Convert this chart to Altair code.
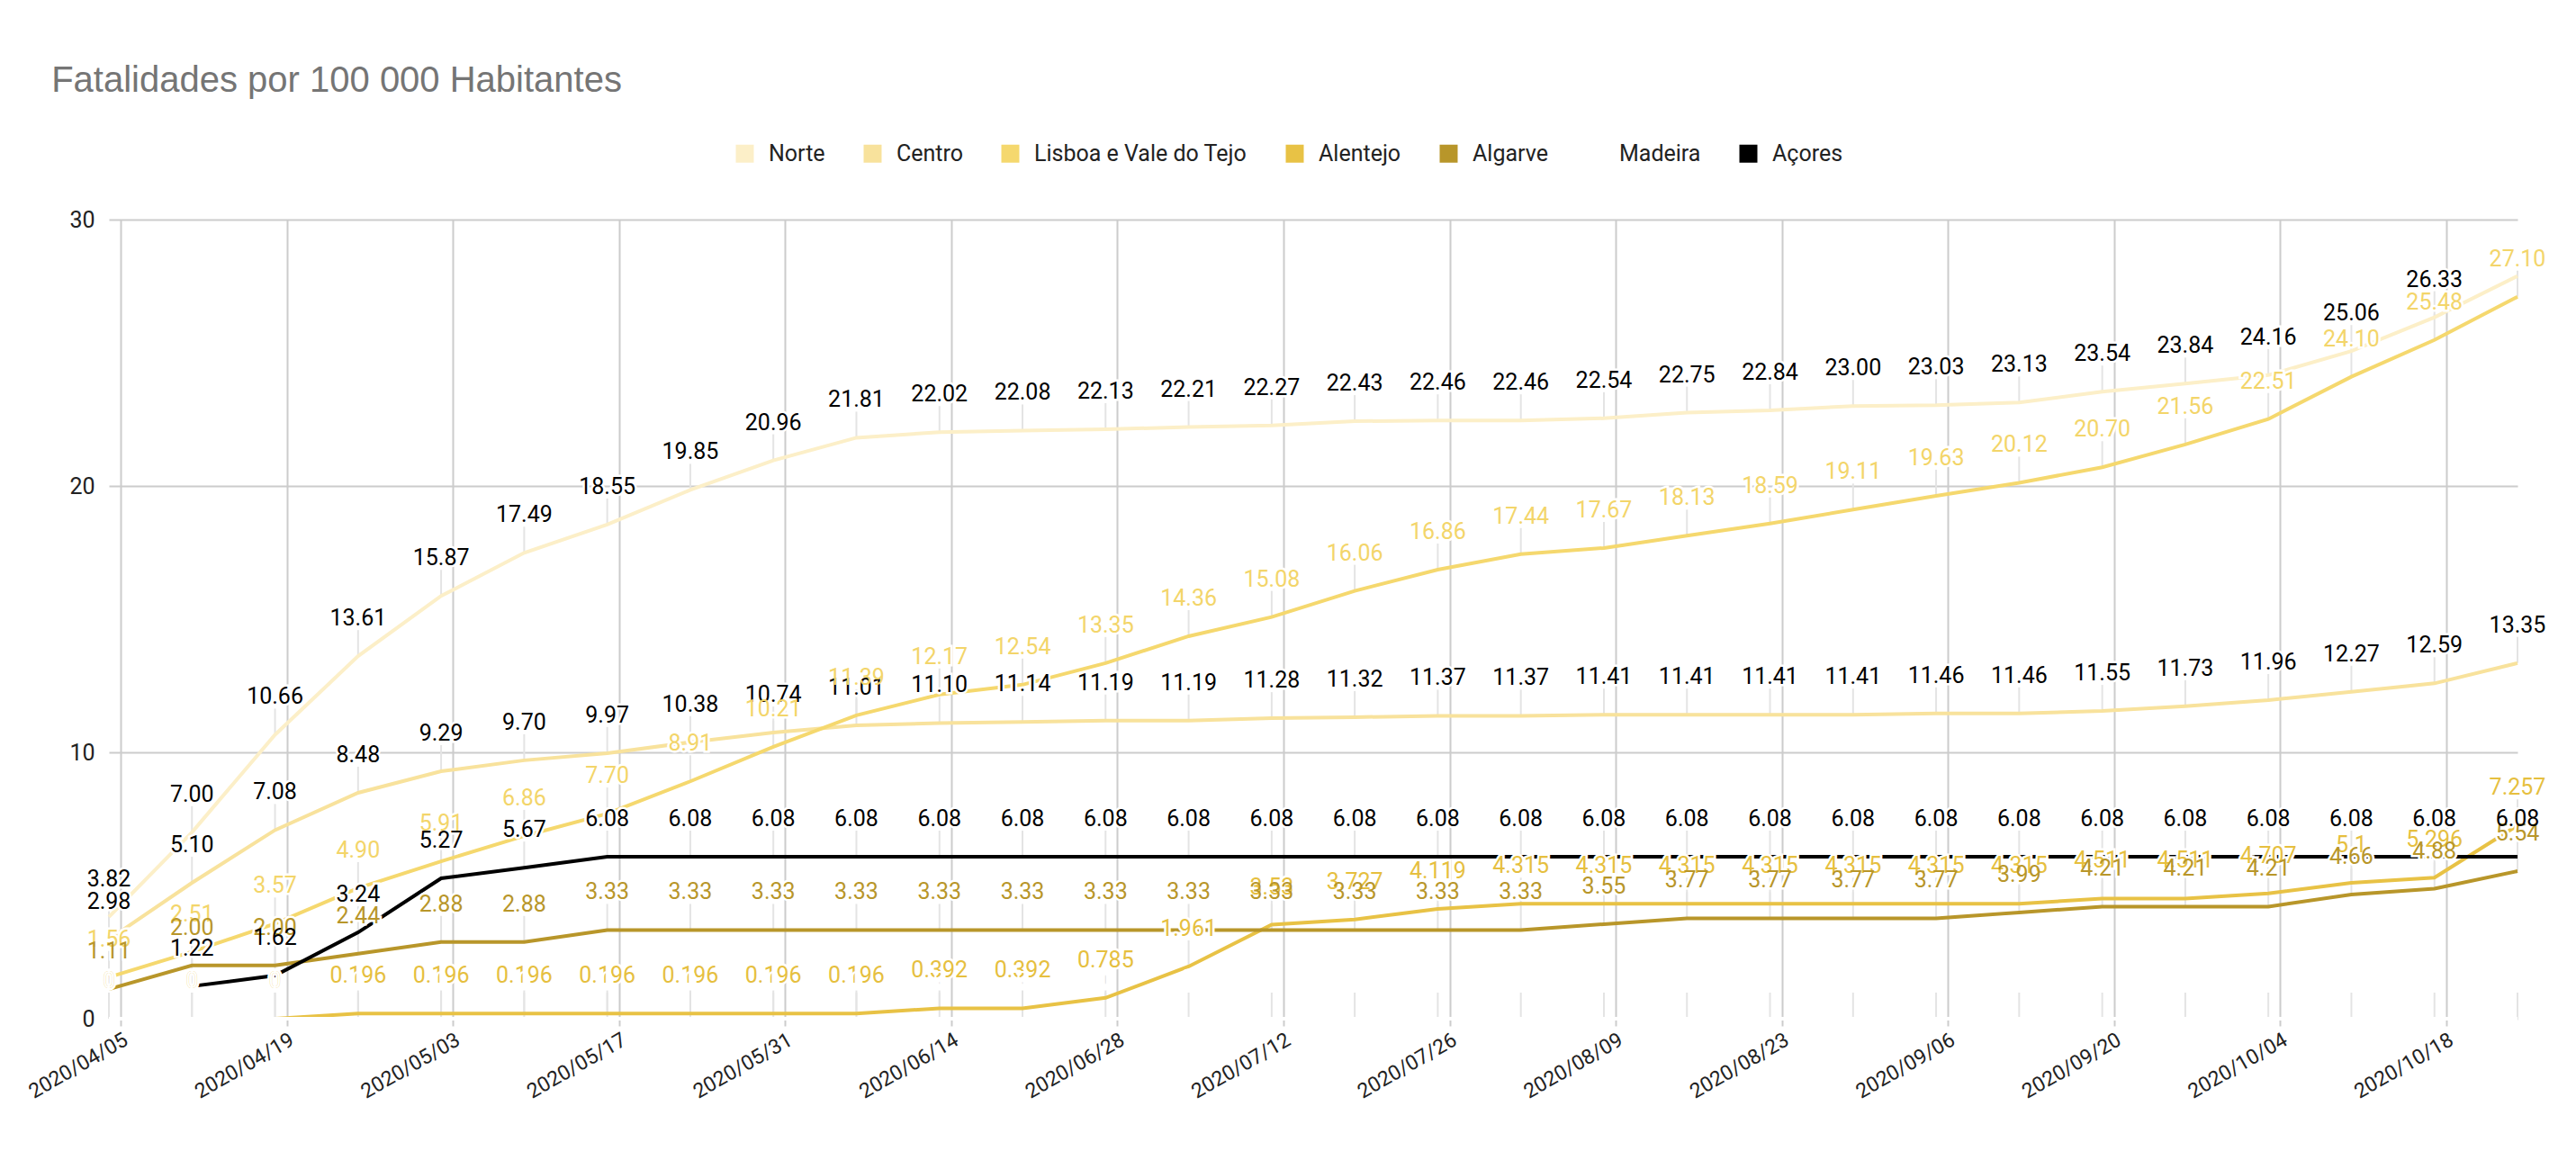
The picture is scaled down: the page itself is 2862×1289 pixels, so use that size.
import altair as alt
import pandas as pd

dates = ["2020/04/04", "2020/04/11", "2020/04/18", "2020/04/25", "2020/05/02", "2020/05/09",
         "2020/05/16", "2020/05/23", "2020/05/30", "2020/06/06", "2020/06/13", "2020/06/20",
         "2020/06/27", "2020/07/04", "2020/07/11", "2020/07/18", "2020/07/25", "2020/08/01",
         "2020/08/08", "2020/08/15", "2020/08/22", "2020/08/29", "2020/09/05", "2020/09/12",
         "2020/09/19", "2020/09/26", "2020/10/03", "2020/10/10", "2020/10/17", "2020/10/24"]

series_names = ["Norte", "Centro", "Lisboa e Vale do Tejo", "Alentejo", "Algarve", "Madeira", "Açores"]

norte = [3.82, 7.00, 10.66, 13.61, 15.87, 17.49, 18.55, 19.85, 20.96, 21.81, 22.02, 22.08, 22.13, 22.21,
         22.27, 22.43, 22.46, 22.46, 22.54, 22.75, 22.84, 23.00, 23.03, 23.13, 23.54, 23.84, 24.16, 25.06,
         26.33, 27.88]
centro = [2.98, 5.10, 7.08, 8.48, 9.29, 9.70, 9.97, 10.38, 10.74, 11.01, 11.10, 11.14, 11.19, 11.19,
          11.28, 11.32, 11.37, 11.37, 11.41, 11.41, 11.41, 11.41, 11.46, 11.46, 11.55, 11.73, 11.96, 12.27,
          12.59, 13.35]
lisboa = [1.56, 2.51, 3.57, 4.90, 5.91, 6.86, 7.70, 8.91, 10.21, 11.39, 12.17, 12.54, 13.35, 14.36,
          15.08, 16.06, 16.86, 17.44, 17.67, 18.13, 18.59, 19.11, 19.63, 20.12, 20.70, 21.56, 22.51, 24.10,
          25.48, 27.10]
alentejo = [0, 0, 0, 0.196, 0.196, 0.196, 0.196, 0.196, 0.196, 0.196, 0.392, 0.392, 0.785, 1.961,
            3.53, 3.727, 4.119, 4.315, 4.315, 4.315, 4.315, 4.315, 4.315, 4.315, 4.511, 4.511, 4.707, 5.1,
            5.296, 7.257]
algarve = [1.11, 2.00, 2.00, 2.44, 2.88, 2.88, 3.33, 3.33, 3.33, 3.33, 3.33, 3.33, 3.33, 3.33,
           3.33, 3.33, 3.33, 3.33, 3.55, 3.77, 3.77, 3.77, 3.77, 3.99, 4.21, 4.21, 4.21, 4.66,
           4.88, 5.54]
madeira = [0] * 30
acores = [None, 1.22, 1.62, 3.24, 5.27, 5.67, 6.08, 6.08, 6.08, 6.08, 6.08, 6.08, 6.08, 6.08,
          6.08, 6.08, 6.08, 6.08, 6.08, 6.08, 6.08, 6.08, 6.08, 6.08, 6.08, 6.08, 6.08, 6.08,
          6.08, 6.08]

# label text style per series: 2 decimals or raw
label_fmt = ["2f", "2f", "2f", "g", "2f", "g", "2f"]
# annotation not shown in the original
hidden_labels = {("Norte", 29)}

line_colors = ["#fcefc8", "#f8e29c", "#f5d86e", "#e8c245", "#b8962a", "#ffffff", "#000000"]
label_colors = ["#000000", "#000000", "#f3d56a", "#e6bf3f", "#b8962a", "#ffffff", "#000000"]

tick_dates = [(2020, 4, 5), (2020, 4, 19), (2020, 5, 3), (2020, 5, 17), (2020, 5, 31), (2020, 6, 14),
              (2020, 6, 28), (2020, 7, 12), (2020, 7, 26), (2020, 8, 9), (2020, 8, 23), (2020, 9, 6),
              (2020, 9, 20), (2020, 10, 4), (2020, 10, 18)]

all_values = [norte, centro, lisboa, alentejo, algarve, madeira, acores]

rows = []
for si, (name, vals) in enumerate(zip(series_names, all_values)):
    for i, (d, v) in enumerate(zip(dates, vals)):
        if v is None:
            continue
        txt = f"{v:.2f}" if label_fmt[si] == "2f" else f"{v:g}"
        rows.append({
            "date": d, "series": name, "value": v, "order": si,
            "label": txt, "lcolor": label_colors[si],
            "show": (name, i) not in hidden_labels,
        })
df = pd.DataFrame(rows)
lab_df = df[df["show"]]

x_enc = alt.X(
    "date:T",
    scale=alt.Scale(domain=[alt.DateTime(year=2020, month=4, date=4),
                            alt.DateTime(year=2020, month=10, date=24)], nice=False),
    axis=alt.Axis(
        values=[alt.DateTime(year=y, month=m, date=dd) for (y, m, dd) in tick_dates],
        format="%Y/%m/%d", labelAngle=-30, labelAlign="right", labelBaseline="top",
        grid=True, gridColor="#cccccc", gridWidth=2, domain=False,
        tickSize=8, tickColor="#cccccc", tickWidth=2, labelPadding=4,
        labelFont="Roboto", labelFontSize=23, labelColor="#222222", title=None,
        labelOverlap=False,
    ),
)
y_enc = alt.Y(
    "value:Q",
    scale=alt.Scale(domain=[0, 30], nice=False),
    axis=alt.Axis(values=[0, 10, 20, 30], grid=True, gridColor="#cccccc", gridWidth=2,
                  ticks=False, domain=False, labelPadding=16, labelFont="Roboto",
                  labelFontSize=25, labelColor="#222222", title=None),
)

lines = alt.Chart(df).mark_line(strokeWidth=4).encode(
    x=x_enc, y=y_enc,
    color=alt.Color(
        "series:N",
        scale=alt.Scale(domain=series_names, range=line_colors),
        legend=alt.Legend(
            title=None, orient="none", legendX=694, legendY=-86, direction="horizontal",
            columns=7, symbolType="square", symbolSize=100, symbolStrokeWidth=10,
            labelFont="Roboto", labelFontSize=25, labelColor="#222222", labelLimit=600,
            columnPadding=27, labelOffset=14,
        ),
    ),
    order="date:T",
)

leaders = alt.Chart(lab_df).mark_rule(strokeWidth=2, color="#e4e4e4", y2Offset=-29).encode(
    x=x_enc, y=y_enc, y2="value:Q"
)

halo = alt.Chart(lab_df).mark_text(
    dy=-34, baseline="alphabetic", align="center", font="Roboto", fontSize=25,
    color="white", stroke="white", strokeWidth=5,
).encode(x=x_enc, y=y_enc, text="label:N")

labels = alt.Chart(lab_df).mark_text(
    dy=-34, baseline="alphabetic", align="center", font="Roboto", fontSize=25,
).encode(x=x_enc, y=y_enc, text="label:N", color=alt.Color("lcolor:N", scale=None))

chart = alt.layer(leaders, lines, halo, labels).properties(
    width=2676, height=888,
    title=alt.TitleParams("Fatalidades por 100 000 Habitantes", anchor="start", font="Liberation Sans",
                          fontSize=40, fontWeight="normal", color="#757575", dx=29, dy=-44),
    autosize=alt.AutoSizeParams(type="none"),
    padding={"left": 113, "top": 236, "right": 49, "bottom": 140},
).configure_view(stroke=None)

chart.save("out.html", embed_options={"renderer": "svg", "actions": False})
